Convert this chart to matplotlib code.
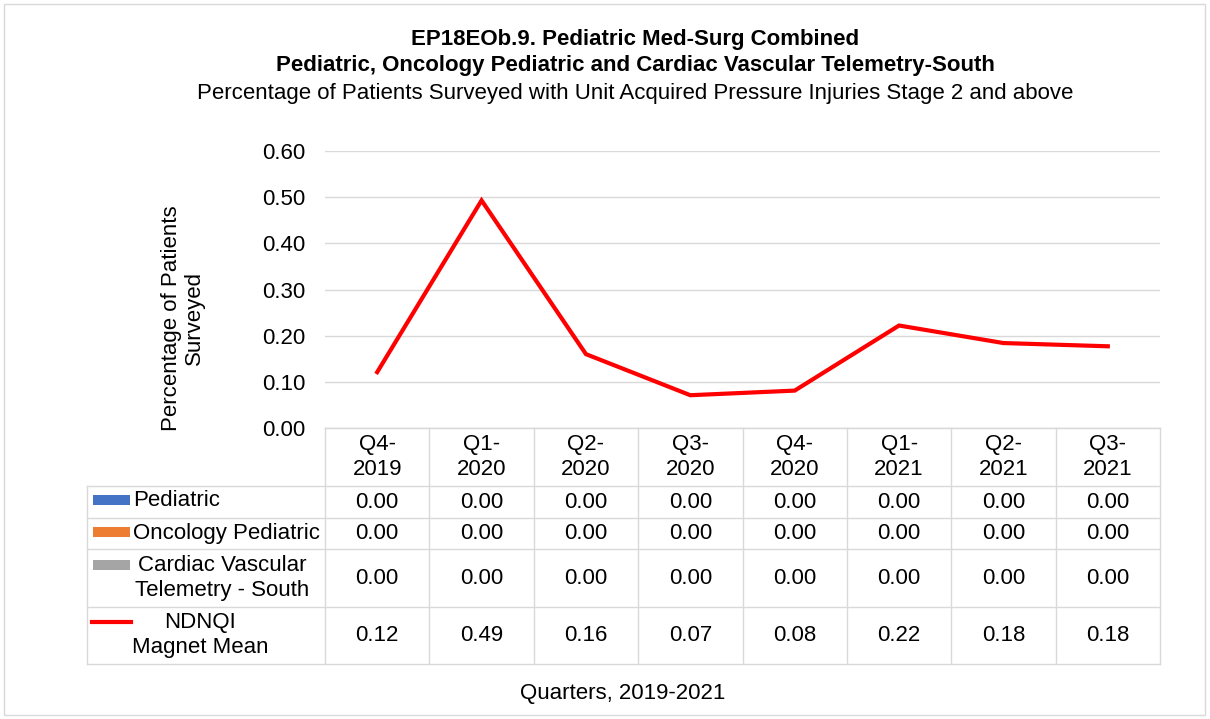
import matplotlib
matplotlib.use('Agg')
import numpy as np
import matplotlib.pyplot as plt
from matplotlib.lines import Line2D
from matplotlib.patches import Rectangle

plt.rcParams['font.family'] = ['Liberation Sans', 'DejaVu Sans']

# ── data ──
quarters = ['Q4-\n2019', 'Q1-\n2020', 'Q2-\n2020', 'Q3-\n2020',
            'Q4-\n2020', 'Q1-\n2021', 'Q2-\n2021', 'Q3-\n2021']
pediatric = [0.0, 0.0, 0.0, 0.0, 0.0, 0.0, 0.0, 0.0]
oncology = [0.0, 0.0, 0.0, 0.0, 0.0, 0.0, 0.0, 0.0]
cardiac = [0.0, 0.0, 0.0, 0.0, 0.0, 0.0, 0.0, 0.0]
ndnqi = [0.121, 0.493, 0.160, 0.071, 0.081, 0.222, 0.184, 0.177]
series_names = ['Pediatric', 'Oncology Pediatric',
                'Cardiac Vascular\nTelemetry - South', 'NDNQI\nMagnet Mean']
yticks = [0.0, 0.1, 0.2, 0.3, 0.4, 0.5, 0.6]

c_blue, c_orange, c_gray, c_red = '#4472C4', '#ED7D31', '#A5A5A5', '#FF0000'
grid_c = '#D9D9D9'
FS = 16

W, H = 1210, 719
fig = plt.figure(figsize=(W / 100, H / 100), dpi=100)
ax_l, ax_r, ax_t, ax_b = 325, 1160, 151, 428
ax = fig.add_axes([ax_l / W, 1 - ax_b / H, (ax_r - ax_l) / W, (ax_b - ax_t) / H])

x = np.arange(len(quarters))
bw = 0.25
ax.bar(x - bw, pediatric, bw, color=c_blue)
ax.bar(x, oncology, bw, color=c_orange)
ax.bar(x + bw, cardiac, bw, color=c_gray)
ax.plot(x, ndnqi, color=c_red, lw=3, solid_joinstyle='miter', zorder=3)

ax.set_xlim(-0.5, len(quarters) - 0.5)
ax.set_ylim(0, 0.6)
ax.set_yticks(yticks)
ax.set_yticklabels([f'{v:.2f}' for v in yticks], fontsize=FS)
ax.set_xticks([])
ax.tick_params(axis='y', length=0, pad=14)
ax.grid(axis='y', color=grid_c, lw=1)
ax.set_axisbelow(True)
for s in ['top', 'right', 'left']:
    ax.spines[s].set_visible(False)
ax.spines['bottom'].set_color(grid_c)

# ── data table below axes (pixel layout) ──
def fx(px):
    return px / W

def fy(py):
    return 1 - py / H

fig.text(fx(183), fy(318), 'Percentage of Patients\nSurveyed', rotation=90,
         ha='center', va='center', fontsize=FS, linespacing=1.1)

col_edges = np.linspace(ax_l, ax_r, len(quarters) + 1)
row_edges = [428, 486, 518, 549, 607, 664]
tbl_left = 87

# horizontal lines
for i, ry in enumerate(row_edges):
    left = ax_l if i == 0 else tbl_left
    fig.add_artist(Line2D([fx(left), fx(ax_r)], [fy(ry), fy(ry)], color=grid_c, lw=1))
# vertical lines
fig.add_artist(Line2D([fx(tbl_left), fx(tbl_left)], [fy(row_edges[1]), fy(row_edges[-1])],
                      color=grid_c, lw=1))
for cx in col_edges:
    fig.add_artist(Line2D([fx(cx), fx(cx)], [fy(row_edges[0]), fy(row_edges[-1])],
                          color=grid_c, lw=1))

centers = (col_edges[:-1] + col_edges[1:]) / 2
for cx, q in zip(centers, quarters):
    fig.text(fx(cx), fy(457), q, ha='center', va='center', fontsize=FS, linespacing=1.3)

rows = [pediatric, oncology, cardiac, ndnqi]
for r, vals in enumerate(rows):
    cy = (row_edges[r + 1] + row_edges[r + 2]) / 2
    for cx, v in zip(centers, vals):
        fig.text(fx(cx), fy(cy), f'{v:.2f}', ha='center', va='center', fontsize=FS)

# legend keys in first column
key_colors = [c_blue, c_orange, c_gray]
key_y = [500, 532, 565]
for kc, ky in zip(key_colors, key_y):
    fig.add_artist(Rectangle((fx(93), fy(ky + 5)), fx(130) - fx(93), fy(ky - 5) - fy(ky + 5),
                             color=kc, lw=0))
fig.add_artist(Line2D([fx(92), fx(131)], [fy(622), fy(622)], color=c_red, lw=3))

fig.text(fx(133), fy(501), series_names[0], ha='left', va='center', fontsize=FS)
fig.text(fx(133), fy(533), series_names[1], ha='left', va='center', fontsize=FS)
fig.text(fx(222), fy(578), series_names[2], ha='center', va='center', fontsize=FS,
         linespacing=1.2)
fig.text(fx(200), fy(635), series_names[3], ha='center', va='center', fontsize=FS,
         linespacing=1.2)

fig.text(fx(623), fy(693), 'Quarters, 2019-2021', ha='center', va='center', fontsize=FS)

# ── titles ──
fig.text(fx(635), fy(39), 'EP18EOb.9. Pediatric Med-Surg Combined', ha='center', va='center',
         fontsize=FS, fontweight='bold')
fig.text(fx(635), fy(66), 'Pediatric, Oncology Pediatric and Cardiac Vascular Telemetry-South',
         ha='center', va='center', fontsize=FS, fontweight='bold')
fig.text(fx(635), fy(93), 'Percentage of Patients Surveyed with Unit Acquired Pressure Injuries Stage 2 and above',
         ha='center', va='center', fontsize=FS)

# outer frame
fig.add_artist(Rectangle((fx(4), fy(715)), fx(1205) - fx(4), fy(4) - fy(715),
                         fill=False, edgecolor='#D9D9D9', lw=1))

plt.savefig('out.png', dpi=100)
